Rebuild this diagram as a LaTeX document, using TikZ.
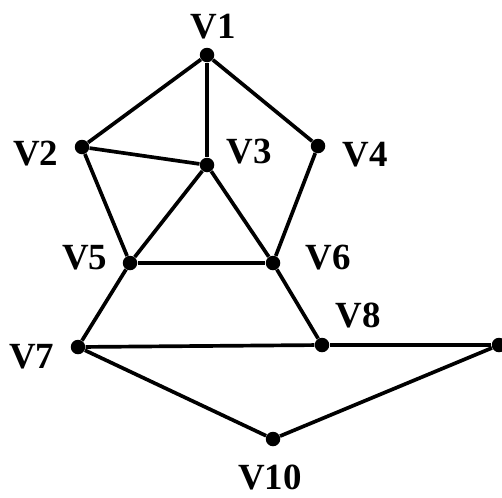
\documentclass[tikz,border=0pt]{standalone}
\usepackage{fontspec}
\setmainfont{Liberation Serif}

\begin{document}
\begin{tikzpicture}[
  x=0.02cm, y=-0.02cm,
  dot/.style={circle, fill, inner sep=0pt, minimum size=0.29cm},
  lbl/.style={font=\fontsize{21}{25}\selectfont\bfseries, inner sep=1pt},
  every label/.style={lbl},
  edge/.style={line width=2.1pt},
]
  \useasboundingbox (0,0) rectangle (502,497);

  % Vertices
  \node[dot, label={[xshift=3.4pt, yshift=3.7pt]above:V1}]  (v1)  at (207, 55) {};
  \node[dot, label={[xshift=-8pt, yshift=-4pt]left:V2}]     (v2)  at (82, 147) {};
  \node[dot, label={[xshift=5.7pt, yshift=7.4pt]right:V3}]  (v3)  at (207, 165) {};
  \node[dot, label={[xshift=8.5pt, yshift=-5pt]right:V4}]   (v4)  at (318, 146) {};
  \node[dot, label={[xshift=-7.4pt, yshift=3pt]left:V5}]    (v5)  at (130, 263) {};
  \node[dot, label={[xshift=13pt, yshift=3pt]right:V6}]     (v6)  at (273, 263) {};
  \node[dot, label={[xshift=-8pt, yshift=-5.7pt]left:V7}]   (v7)  at (78, 347) {};
  \node[dot, label={[xshift=3.7pt, yshift=5.4pt]above right:V8}] (v8) at (322, 345) {};
  \node[dot]                                                (v9)  at (499, 345) {};
  \node[dot, label={[xshift=-1.7pt, yshift=-9pt]below:V10}] (v10) at (273, 439) {};

  % Edges
  \draw[edge] (v1) -- (v2);
  \draw[edge] (v1) -- (v3);
  \draw[edge] (v1) -- (v4);
  \draw[edge] (v2) -- (v3);
  \draw[edge] (v2) -- (v5);
  \draw[edge] (v3) -- (v5);
  \draw[edge] (v3) -- (v6);
  \draw[edge] (v4) -- (v6);
  \draw[edge] (v5) -- (v6);
  \draw[edge] (v5) -- (v7);
  \draw[edge] (v6) -- (v8);
  \draw[edge] (v7) -- (v8);
  \draw[edge] (v8) -- (v9);
  \draw[edge] (v7) -- (v10);
  \draw[edge] (v10) -- (v9);

\end{tikzpicture}
\end{document}
